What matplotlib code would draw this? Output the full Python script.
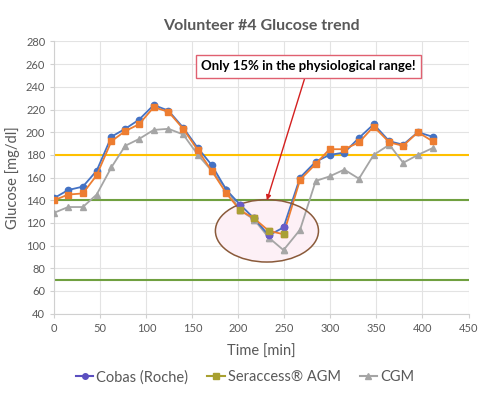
import matplotlib
matplotlib.use("Agg")
import matplotlib.pyplot as plt
from matplotlib.patches import Ellipse
from matplotlib.lines import Line2D
import numpy as np

plt.rcParams['font.family'] = ['Lato', 'DejaVu Sans']

# sampling times [min]
time = [0, 15, 31, 46, 62, 77, 92, 108, 124, 140, 156, 171, 187, 202,
        217, 233, 249, 267, 284, 299, 315, 331, 347, 364, 379, 395, 411]

# glucose readings [mg/dl]
cobas = [142, 149, 152, 166, 196, 203, 211, 224, 219, 204, 186, 171, 149, 136,
         124, 109, 116, 160, 174, 180, 182, 195, 207, 192, 189, 200, 196]
seraccess = [140, 145, 146, 162, 192, 201, 207, 222, 218, 203, 184, 166, 146, 131,
             124, 113, 110, 158, 172, 185, 185, 191, 205, 191, 188, 200, 192]
cgm = [129, 134, 134, 145, 169, 188, 194, 202, 203, 198, 180, 166, 150, 131,
       123, 107, 96, 114, 157, 161, 167, 159, 180, 189, 173, 180, 186]

x_ticks = list(range(0, 451, 50))
y_ticks = list(range(40, 281, 20))
hyper_limit = 180
normal_low = 70
normal_high = 140

grey_text = '#595959'
c_cobas = '#4472c4'
c_sera = '#ed7d31'
c_cgm = '#a5a5a5'

fig = plt.figure(figsize=(4.85, 3.99), dpi=100)
ax = fig.add_axes([0.112, 0.214, 0.854, 0.682])

ax.axhline(hyper_limit, color='#ffc000', lw=1.5, zorder=2)
ax.axhline(normal_high, color='#70a040', lw=1.5, zorder=2)
ax.axhline(normal_low, color='#70a040', lw=1.5, zorder=2)

# circled hypo region (faint fill under the lines)
ax.add_patch(Ellipse((231, 113), 112, 55, facecolor='#fdf0f6',
                     edgecolor='none', zorder=1.5))

ax.plot(time, cgm, color=c_cgm, marker='^', ms=4.5, lw=1.3, zorder=3)
ax.plot(time, cobas, color=c_cobas, marker='o', ms=4.5, lw=1.3, zorder=4)
ax.plot(time, seraccess, color=c_sera, marker='s', ms=4.5, lw=1.3, zorder=5)

ax.add_patch(Ellipse((231, 113), 112, 55, facecolor='none',
                     edgecolor='#8a5a3a', lw=1.1, zorder=7))

# markers inside the circle look recoloured in the original
t = np.array(time)
inside = (t > 195) & (t < 255)
ax.plot(t[inside], np.array(cgm)[inside], ls='none', marker='^', ms=4.5,
        color='#a8a8a8', zorder=8)
ax.plot(t[inside], np.array(cobas)[inside], ls='none', marker='o', ms=4.5,
        color='#6a5cc8', zorder=8)
ax.plot(t[inside], np.array(seraccess)[inside], ls='none', marker='s', ms=4.5,
        color='#aaa035', zorder=9)

ax.annotate('Only 15% in the physiological range!', xy=(231, 140), xytext=(276, 258),
            ha='center', va='center', fontsize=9.5, fontweight='bold', color='black',
            bbox=dict(boxstyle='square,pad=0.4', fc='white', ec='#e06070', lw=1),
            arrowprops=dict(arrowstyle='-|>', color='#d42020', lw=1,
                            mutation_scale=7, shrinkA=0, shrinkB=0),
            zorder=10)

ax.set_xlim(0, 450)
ax.set_ylim(40, 280)
ax.set_xticks(x_ticks)
ax.set_yticks(y_ticks)
ax.grid(True, color='#e3e3e3', lw=0.8)
ax.set_axisbelow(True)
for s in ['top', 'right']:
    ax.spines[s].set_visible(False)
for s in ['left', 'bottom']:
    ax.spines[s].set_color('#d0d0d0')
ax.tick_params(colors='#d0d0d0', labelcolor=grey_text, labelsize=8, length=3)

ax.set_title('Volunteer #4 Glucose trend', fontsize=11.5, fontweight='bold',
             color=grey_text, pad=8)
ax.set_xlabel('Time [min]', fontsize=10.5, color=grey_text, labelpad=8)
ax.set_ylabel('Glucose [mg/dl]', fontsize=10.5, color=grey_text, labelpad=4)

handles = [Line2D([], [], color='#5b4fc0', marker='o', ms=4),
           Line2D([], [], color='#a8a030', marker='s', ms=4),
           Line2D([], [], color=c_cgm, marker='^', ms=4)]
fig.legend(handles, ['Cobas (Roche)', 'Seraccess® AGM', 'CGM'], loc='center',
           bbox_to_anchor=(0.505, 0.055), ncol=3, frameon=False, fontsize=10.5,
           handlelength=1.2, handletextpad=0.2, columnspacing=1.3,
           labelcolor=grey_text)

fig.savefig('out.png', dpi=100)
